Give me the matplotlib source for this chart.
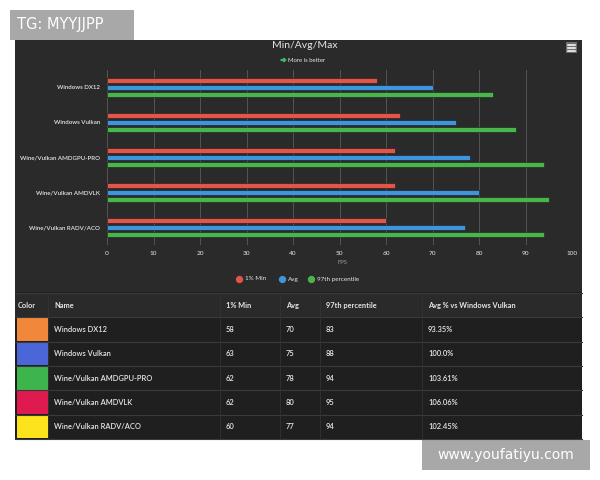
import numpy as np
import matplotlib
matplotlib.use('Agg')
import matplotlib.pyplot as plt
from matplotlib.patches import Rectangle, FancyArrow

plt.rcParams['font.family'] = ['Lato', 'DejaVu Sans']

# dados
configs = ['Windows DX12', 'Windows Vulkan', 'Wine/Vulkan AMDGPU-PRO',
           'Wine/Vulkan AMDVLK', 'Wine/Vulkan RADV/ACO']
min1 = [58, 63, 62, 62, 60]
avg = [70, 75, 78, 80, 77]
p97 = [83, 88, 94, 95, 94]
avg_pct = ['93.35%', '100.0%', '103.61%', '106.06%', '102.45%']
swatch_colors = ['#f0873a', '#4a66d9', '#3eb54c', '#df1a4e', '#fde31c']
series_names = ['1% Min', 'Avg', '97th percentile']
series_colors = ['#e0574a', '#3f95dc', '#4ab54a']
x_ticks = list(range(0, 101, 10))

W, H = 600, 480
fig = plt.figure(figsize=(6, 4.8), dpi=100)
fig.patch.set_facecolor('white')

# camada de fundo em coordenadas de pixel
bg = fig.add_axes([0, 0, 1, 1])
bg.set_xlim(0, W)
bg.set_ylim(H, 0)
bg.axis('off')

bg.add_patch(Rectangle((15, 40), 567, 252, color='#2a2a2a', lw=0))
bg.add_patch(Rectangle((15, 292), 567, 148, color='#1f1f1f', lw=0))

txt = '#e6e6e6'
bg.text(305, 46, 'Min/Avg/Max', color=txt, fontsize=7.5, ha='center', va='center')
bg.add_patch(FancyArrow(281, 60, 5, 0, width=0.8, head_width=3.5, head_length=2.5,
                        color='#3cb371', length_includes_head=True))
bg.text(288, 60, 'More is better', color=txt, fontsize=4.3, ha='left', va='center')

# menu
bg.add_patch(Rectangle((566, 42), 11, 11, color='#6e6e6e', lw=0))
for yy in (44.5, 47.5, 50.5):
    bg.plot([568, 575], [yy, yy], color='white', lw=1.1)

bg.text(342, 263, 'FPS', color='#9a9a9a', fontsize=4.3, ha='center', va='center')

# legenda
leg_x = [239, 282, 311]
for lx, name, c in zip(leg_x, series_names, series_colors):
    bg.scatter([lx], [279], s=18, color=c, zorder=3)
    bg.text(lx + 6, 279, name, color=txt, fontsize=4.5, ha='left', va='center')

# tabela
col_edges = [15, 48, 220, 280, 320, 422, 582]
headers = ['Color', 'Name', '1% Min', 'Avg', '97th percentile', 'Avg % vs Windows Vulkan']
row_top = 293
row_h = 24.3
bg.add_patch(Rectangle((15, row_top), 567, row_h, color='#2a2a2a', lw=0))
for i, htxt in enumerate(headers):
    bg.text(col_edges[i] + (3 if i == 0 else 6), row_top + row_h / 2, htxt,
            color=txt, fontsize=5.3, ha='left', va='center', fontweight='bold')
for r in range(len(configs)):
    y0 = row_top + row_h * (r + 1)
    bg.add_patch(Rectangle((17, y0 + 0.5), 31, row_h - 1, color=swatch_colors[r], lw=0))
    vals = [configs[r], str(min1[r]), str(avg[r]), str(p97[r]), avg_pct[r]]
    for j, v in enumerate(vals):
        bg.text(col_edges[j + 1] + 6, y0 + row_h / 2, v, color=txt, fontsize=5.4,
                ha='left', va='center', fontweight='semibold')
for r in range(len(configs) + 2):
    y = row_top + row_h * r
    bg.plot([15, 582], [y, y], color='#3a3a3a', lw=0.8)
for xe in col_edges[1:-1]:
    bg.plot([xe, xe], [row_top, row_top + row_h * 6], color='#333333', lw=0.6)

# marcas d'agua
bg.add_patch(Rectangle((10, 10), 124, 30, color='#a8a8a8', lw=0))
bg.text(17, 25, 'TG: MYYJJPP', color='white', fontsize=10.5, ha='left', va='center',
        family='DejaVu Sans')
bg.add_patch(Rectangle((422, 440), 168, 30, color='#a8a8a8', lw=0))
bg.text(506, 455, 'www.youfatiyu.com', color='white', fontsize=10, ha='center',
        va='center', family='DejaVu Sans')

# grafico de barras
ax = fig.add_axes([107 / W, 1 - 245 / H, (572 - 107) / W, (245 - 70) / H])
ax.set_facecolor('none')
y = np.arange(len(configs))
off = 0.2
bh = 0.17
for k, (vals, c) in enumerate(zip([min1, avg, p97], series_colors)):
    ax.barh(y + (k - 1) * off, vals, height=bh, color=c, edgecolor='#1a1a1a', lw=0.4, zorder=3)
ax.set_xlim(0, 100)
ax.set_ylim(4.5, -0.5)
ax.set_yticks(y)
ax.set_yticklabels(configs, color=txt, fontsize=4.4, fontweight='semibold')
ax.set_xticks(x_ticks)
ax.set_xticklabels([str(t) for t in x_ticks], color=txt, fontsize=4.6)
ax.tick_params(axis='y', length=0, pad=5)
ax.tick_params(axis='x', length=0, pad=4)
ax.grid(axis='x', color='#555555', lw=0.7, zorder=0)
for s in ax.spines.values():
    s.set_visible(False)

fig.savefig('out.png', dpi=100, facecolor=fig.get_facecolor())
